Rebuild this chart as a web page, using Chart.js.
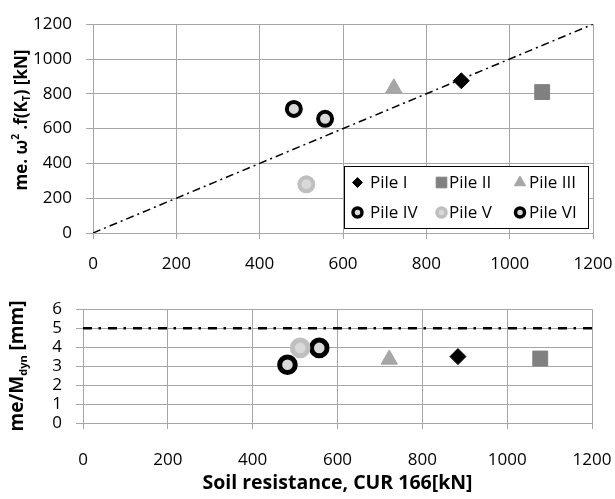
<!DOCTYPE html>
<html>
<head>
<meta charset="utf-8">
<script src="https://cdn.jsdelivr.net/npm/chart.js@4.4.1/dist/chart.umd.min.js"></script>
<style>
  html, body { margin: 0; padding: 0; background: #ffffff; }
  canvas { position: absolute; left: 0; display: block; }
  #forceChart { top: 0; }
  #ratioChart { top: 285px; }
</style>
</head>
<body>
<canvas id="forceChart" width="615" height="285"></canvas>
<canvas id="ratioChart" width="615" height="214"></canvas>
<script>
const pileNames = ["Pile I", "Pile II", "Pile III", "Pile IV", "Pile V", "Pile VI"];
const soilResistance = [884, 1078, 722, 482, 512, 557];
const dynamicForce = [875, 810, 832, 713, 280, 656];
const massRatio = [3.5, 3.4, 3.35, 3.07, 3.96, 3.96];
const lineExtent = [0, 1200];
const ratioLimit = [5, 5];
const xTicks = [0, 200, 400, 600, 800, 1000, 1200];
const forceTicks = [0, 200, 400, 600, 800, 1000, 1200];
const ratioTicks = [0, 1, 2, 3, 4, 5, 6];

const FONT = "'Open Sans', 'Liberation Sans', sans-serif";
const GRID = "#a6a6a6";

// marker look per pile (circles get their size per panel)
const pileStyles = [
  { pointStyle: "rectRot", fill: "#000000", stroke: "#000000", radius: 8, border: 1 },
  { pointStyle: "rect", fill: "#808080", stroke: "#808080", radius: 10.5, border: 1 },
  { pointStyle: "triangle", fill: "#a6a6a6", stroke: "#a6a6a6", radius: 9.5, border: 1 },
  { pointStyle: "circle", fill: "#d9d9d9", stroke: "#000000" },
  { pointStyle: "circle", fill: "#d9d9d9", stroke: "#bfbfbf" },
  { pointStyle: "circle", fill: "#d9d9d9", stroke: "#000000" },
];

const useTicks = (values) => (scale) => {
  scale.ticks = values.map((value) => ({ value }));
};

const pileDatasets = (yValues, circle) =>
  pileNames.map((name, i) => {
    const s = pileStyles[i];
    const round = s.pointStyle === "circle";
    return {
      label: name,
      data: [{ x: soilResistance[i], y: yValues[i] }],
      pointStyle: s.pointStyle,
      pointRadius: round ? circle.radius : s.radius,
      pointBorderWidth: round ? circle.border : s.border,
      pointBackgroundColor: s.fill,
      pointBorderColor: s.stroke,
      backgroundColor: s.fill,
      borderColor: s.stroke,
    };
  });

const dashLine = (yValues, width, dash) => ({
  label: "",
  data: lineExtent.map((x, j) => ({ x, y: yValues[j] })),
  showLine: true,
  borderColor: "#000000",
  borderWidth: width,
  borderDash: dash,
  pointRadius: 0,
  fill: false,
});

const tickStyle = (padding) => ({
  color: "#000",
  font: { family: FONT, size: 17 },
  padding,
  maxRotation: 0,
  autoSkip: false,
  callback: (value) => String(value),
});

const axisX = (height, padding, title) => ({
  type: "linear",
  min: 0,
  max: 1200,
  afterBuildTicks: useTicks(xTicks),
  afterFit: (scale) => {
    // plot edges are set by layout padding, not by the end labels
    scale.height = height;
    scale.paddingLeft = 0;
    scale.paddingRight = 0;
  },
  grid: { color: GRID, lineWidth: 1, tickLength: 6, tickColor: GRID },
  border: { color: GRID, width: 1 },
  ticks: tickStyle(padding),
  title: title
    ? { display: true, text: title, color: "#000", font: { family: FONT, size: 19.5, weight: "bold", lineHeight: 1.2 }, padding: { top: 0, bottom: 4 } }
    : { display: false },
});

const axisY = (ticks, width) => ({
  type: "linear",
  min: ticks[0],
  max: ticks[ticks.length - 1],
  afterBuildTicks: useTicks(ticks),
  afterFit: (scale) => { scale.width = width; },
  grid: { color: GRID, lineWidth: 1, tickLength: 7, tickColor: GRID },
  border: { color: GRID, width: 1 },
  ticks: tickStyle(14),
});

// rotated y title with sub/superscript parts
const drawRichTitle = (ctx, parts, cx, cy, size, small) => {
  const fontFor = (p) => `bold ${p.shift ? Math.round(size * small) : size}px ${FONT}`;
  ctx.save();
  ctx.translate(cx, cy);
  ctx.rotate(-Math.PI / 2);
  ctx.textBaseline = "middle";
  ctx.textAlign = "left";
  ctx.fillStyle = "#000";
  let total = 0;
  parts.forEach((p) => {
    ctx.font = fontFor(p);
    total += ctx.measureText(p.text).width;
  });
  let x = -total / 2;
  parts.forEach((p) => {
    ctx.font = fontFor(p);
    ctx.fillText(p.text, x, (p.shift || 0) * size);
    x += ctx.measureText(p.text).width;
  });
  ctx.restore();
};

const yTitle = (parts, cx, cy, size, small) => ({
  id: "yTitle",
  afterDraw: (chart) => drawRichTitle(chart.ctx, parts, cx, cy, size, small),
});

// two-row legend box inside the upper panel
const pileLegend = {
  id: "pileLegend",
  afterDraw: (chart) => {
    const ctx = chart.ctx;
    const box = { x: 344.5, y: 166.5, w: 244, h: 62 };
    const markerX = [357.5, 441.5, 520];
    const textX = [370, 449, 529];
    const rowY = [182.5, 212.5];
    const legendSize = {
      rectRot: { radius: 5, border: 1 },
      rect: { radius: 7.5, border: 1 },
      triangle: { radius: 6.5, border: 1 },
      circle: { radius: 4.5, border: 3.5 },
    };
    ctx.save();
    ctx.fillStyle = "#ffffff";
    ctx.fillRect(box.x, box.y, box.w, box.h);
    ctx.strokeStyle = "#000000";
    ctx.lineWidth = 1;
    ctx.strokeRect(box.x, box.y, box.w, box.h);
    pileNames.forEach((name, i) => {
      const s = pileStyles[i];
      const size = legendSize[s.pointStyle];
      const col = i % 3;
      const y = rowY[Math.floor(i / 3)];
      ctx.fillStyle = s.fill;
      ctx.strokeStyle = s.stroke;
      ctx.lineWidth = size.border;
      Chart.helpers.drawPoint(ctx, { pointStyle: s.pointStyle, rotation: 0, radius: size.radius, borderWidth: size.border }, markerX[col], y);
      ctx.fillStyle = "#000";
      ctx.font = `17px ${FONT}`;
      ctx.textBaseline = "middle";
      ctx.textAlign = "left";
      ctx.fillText(name, textX[col], y + 0.5);
    });
    ctx.restore();
  },
};

const commonOptions = {
  responsive: false,
  animation: false,
  events: [],
  plugins: { legend: { display: false }, tooltip: { enabled: false } },
};

new Chart(document.getElementById("forceChart"), {
  type: "scatter",
  data: {
    datasets: [
      ...pileDatasets(dynamicForce, { radius: 7, border: 4 }),
      dashLine(lineExtent, 1.5, [8, 4, 2, 4]),
    ],
  },
  options: {
    ...commonOptions,
    layout: { padding: { top: 14, right: 22, left: 0, bottom: 0 } },
    scales: { x: axisX(52, 15), y: axisY(forceTicks, 93) },
  },
  plugins: [
    pileLegend,
    yTitle(
      [
        { text: "me. ω" },
        { text: "2", shift: -0.35 },
        { text: " .f(K" },
        { text: "T", shift: 0.3 },
        { text: ") [kN]" },
      ],
      22,
      120,
      17,
      0.6
    ),
  ],
});

new Chart(document.getElementById("ratioChart"), {
  type: "scatter",
  data: {
    datasets: [
      ...pileDatasets(massRatio, { radius: 7.8, border: 5 }),
      dashLine(ratioLimit, 2.5, [9, 6.5, 2.5, 7]),
    ],
  },
  options: {
    ...commonOptions,
    layout: { padding: { top: 13, right: 23, left: 0, bottom: 0 } },
    scales: { x: axisX(76, 21, "Soil resistance, CUR 166[kN]"), y: axisY(ratioTicks, 83) },
  },
  plugins: [
    yTitle([{ text: "me/M" }, { text: "dyn", shift: 0.3 }, { text: " [mm]" }], 18, 81, 19, 0.6),
  ],
});
</script>
</body>
</html>
